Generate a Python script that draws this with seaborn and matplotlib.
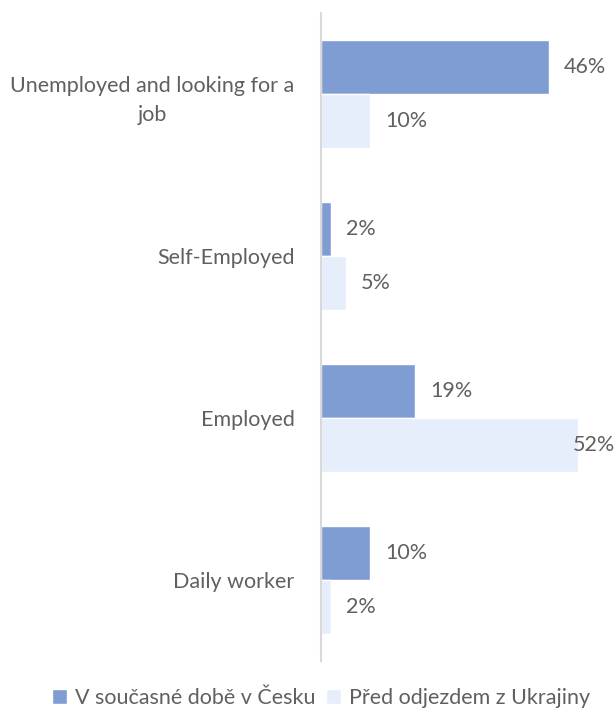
import pandas as pd
import matplotlib.pyplot as plt
import seaborn as sns

# Data
categories = ['Unemployed and looking for a\njob', 'Self-Employed', 'Employed', 'Daily worker']
now_cz = [46, 2, 19, 10]
before_ua = [10, 5, 52, 2]
series_names = ['V současné době v Česku', 'Před odjezdem z Ukrajiny']

df = pd.DataFrame({
    'category': categories * 2,
    'value': now_cz + before_ua,
    'series': [series_names[0]] * 4 + [series_names[1]] * 4,
})

sns.set_style('white')
plt.rcParams['font.family'] = ['Lato', 'DejaVu Sans']
text_color = '#606060'
fs = 15.5

fig = plt.figure(figsize=(6.16, 7.10), dpi=100)
ax = fig.add_axes([0.521, 0.069, 0.479, 0.913])

sns.barplot(data=df, y='category', x='value', hue='series', orient='h',
            palette=['#7F9CD3', '#E6EEFB'], width=0.667, ax=ax, saturation=1)

xmax = 59.6
for container in ax.containers:
    for bar, v in zip(container, container.datavalues):
        x = bar.get_width()
        y = bar.get_y() + bar.get_height() / 2
        # pull the label back if it would run off the figure
        pad = 11 if x < xmax - 12 else -4
        ax.annotate(f'{v:.0f}%', (x, y), xytext=(pad, 0), textcoords='offset points',
                    ha='left', va='center', fontsize=fs, color=text_color,
                    annotation_clip=False)

ax.set_xlim(0, xmax)
ax.set_ylim(3.5, -0.5)
ax.set_xlabel('')
ax.set_ylabel('')
ax.set_xticks([])
ax.tick_params(axis='y', length=0, pad=19, labelsize=fs, labelcolor=text_color)
for lbl in ax.get_yticklabels():
    lbl.set_multialignment('center')
    lbl.set_linespacing(1.55)

for side in ['top', 'right', 'bottom']:
    ax.spines[side].set_visible(False)
ax.spines['left'].set_color('#D9D9D9')
ax.spines['left'].set_linewidth(1.5)

leg = ax.legend(loc='center', bbox_to_anchor=(0.521, 0.017), bbox_transform=fig.transFigure,
                ncol=2, frameon=False, fontsize=fs, handlelength=0.7, handleheight=0.7,
                handletextpad=0.35, columnspacing=0.5)
for t in leg.get_texts():
    t.set_color(text_color)

fig.savefig('out.png', dpi=100)
